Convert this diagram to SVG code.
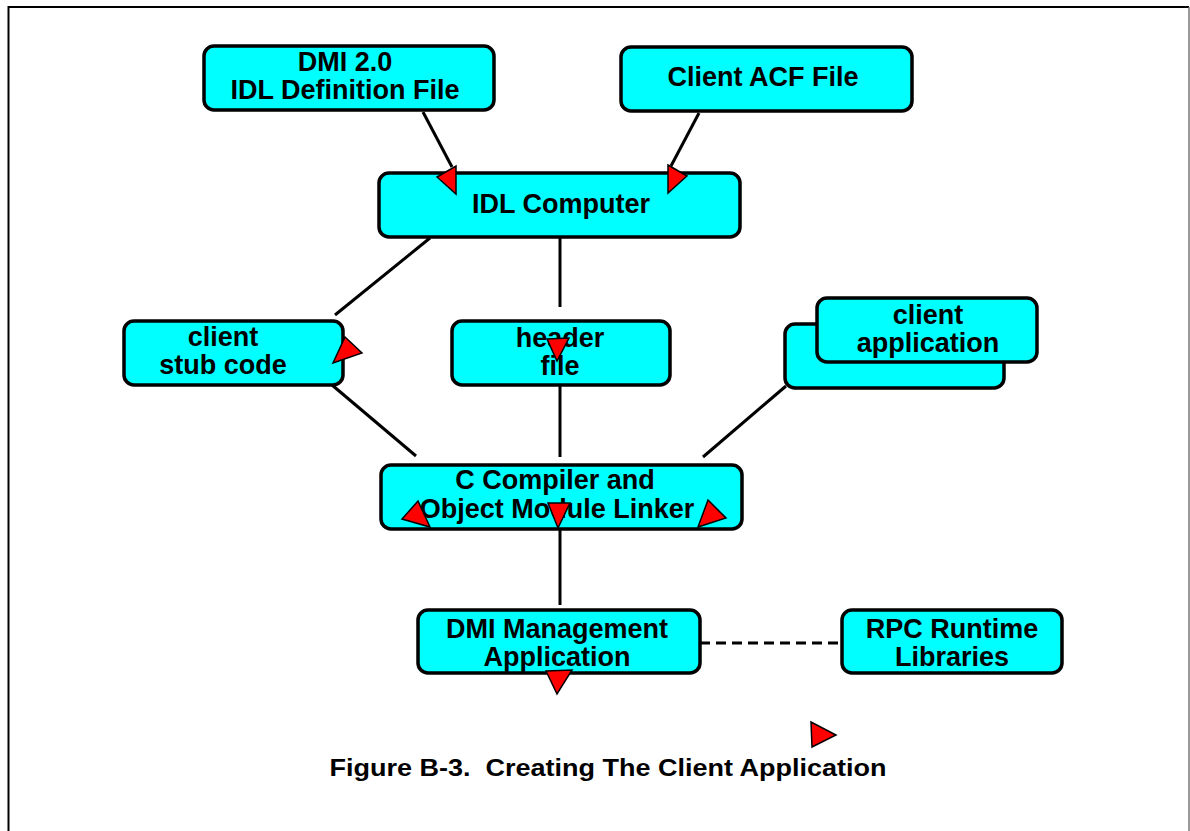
<svg xmlns="http://www.w3.org/2000/svg" width="1190" height="831" viewBox="0 0 1190 831">
<style>
.box{fill:#00FFFF;stroke:#000;stroke-width:3.5}
.t{font-family:"Liberation Sans",Arial,sans-serif;font-weight:bold;font-size:27px;text-anchor:middle;fill:#000}
.cap{font-family:"Liberation Sans",Arial,sans-serif;font-weight:bold;font-size:24px;text-anchor:middle;fill:#000}
.ln{stroke:#000;stroke-width:3;fill:none}
.ah{fill:#FF0000;stroke:#000;stroke-width:1.5;stroke-linejoin:miter}
</style>
<rect width="1190" height="831" fill="#fff"/>
<path d="M8.5,831 V7 H1189" fill="none" stroke="#000" stroke-width="2"/>
<path d="M1189,7 V831" fill="none" stroke="#777" stroke-width="1.5"/>

<g id="connectors">
<line class="ln" x1="423" y1="112" x2="452" y2="167"/>
<line class="ln" x1="699" y1="113" x2="671" y2="166"/>
<line class="ln" x1="430" y1="238" x2="335" y2="315"/>
<line class="ln" x1="560" y1="238" x2="560" y2="307"/>
<line class="ln" x1="332" y1="385" x2="416" y2="456"/>
<line class="ln" x1="560" y1="386" x2="560" y2="457"/>
<line class="ln" x1="786" y1="386" x2="703" y2="457"/>
<line class="ln" x1="560" y1="530" x2="560" y2="605"/>
<line class="ln" x1="700" y1="643" x2="842" y2="643" stroke-dasharray="10,6"/>
</g>

<g id="n-dmi20">
<rect class="box" x="204" y="46" width="290" height="64" rx="10"/>
<text class="t" x="345" y="71">DMI 2.0</text>
<text class="t" x="345" y="99">IDL Definition File</text>
</g>
<g id="n-acf">
<rect class="box" x="621" y="47" width="291" height="64" rx="10"/>
<text class="t" x="763" y="86">Client ACF File</text>
</g>
<g id="n-idl">
<rect class="box" x="379" y="173" width="361" height="64" rx="10"/>
<text class="t" x="561" y="213">IDL Computer</text>
</g>
<g id="n-stub">
<rect class="box" x="124" y="321" width="219" height="64" rx="10"/>
<text class="t" x="223" y="346">client</text>
<text class="t" x="223" y="374">stub code</text>
</g>
<g id="n-header">
<rect class="box" x="452" y="321" width="218" height="64" rx="10"/>
<text class="t" x="560" y="347">header</text>
<text class="t" x="560" y="375">file</text>
</g>
<g id="n-clientapp">
<rect class="box" x="785" y="324" width="219" height="64" rx="10"/>
<rect class="box" x="817" y="298" width="220" height="64" rx="10"/>
<text class="t" x="928" y="324">client</text>
<text class="t" x="928" y="352">application</text>
</g>
<g id="n-compiler">
<rect class="box" x="381" y="465" width="361" height="64" rx="10"/>
<text class="t" x="555" y="489">C Compiler and</text>
<text class="t" x="557" y="518">Object Module Linker</text>
</g>
<g id="n-dmimgmt">
<rect class="box" x="418" y="610" width="282" height="63" rx="10"/>
<text class="t" x="557" y="638">DMI Management</text>
<text class="t" x="557" y="666">Application</text>
</g>
<g id="n-rpc">
<rect class="box" x="842" y="610" width="220" height="63" rx="10"/>
<text class="t" x="952" y="638">RPC Runtime</text>
<text class="t" x="952" y="666">Libraries</text>
</g>

<g id="arrowheads">
<polygon class="ah" points="437,177 456,166 456,194"/>
<polygon class="ah" points="668,165 687,176 668,193"/>
<polygon class="ah" points="345,337 362,353 333,363"/>
<polygon class="ah" points="547,339 569,338 557,361"/>
<polygon class="ah" points="418,501 430,527 402,519"/>
<polygon class="ah" points="548,503 570,503 558,528"/>
<polygon class="ah" points="708,500 726,518 698,527"/>
<polygon class="ah" points="546,671 572,670 557,694"/>
<polygon class="ah" points="811,722 836,735 812,747"/>
</g>

<text class="cap" x="608" y="776" xml:space="preserve" textLength="557" lengthAdjust="spacingAndGlyphs">Figure B-3.  Creating The Client Application</text>
</svg>
